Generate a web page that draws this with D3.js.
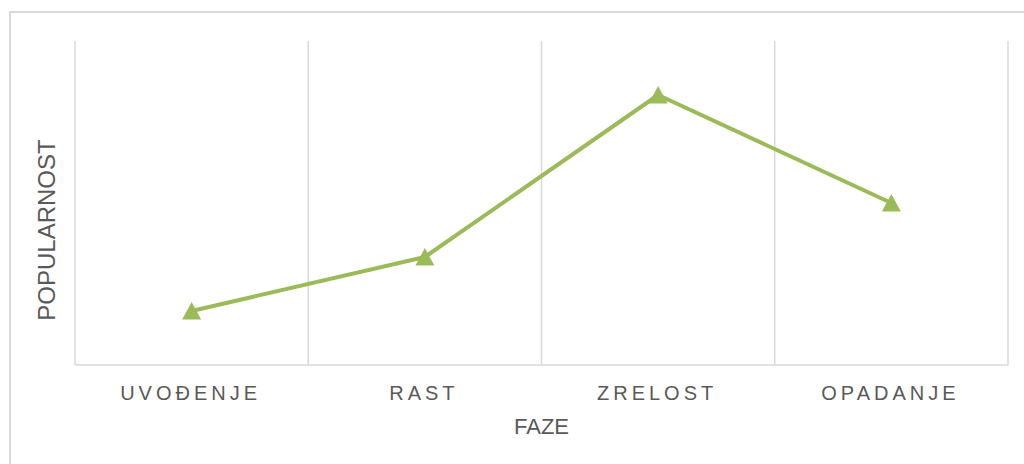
<!DOCTYPE html>
<html>
<head>
<meta charset="utf-8">
<script src="https://cdn.jsdelivr.net/npm/d3@7"></script>
<style>
  body { margin: 0; background: #fff; }
  svg { display: block; font-family: "Liberation Sans", Arial, sans-serif; }
</style>
</head>
<body>
<svg class="chart"></svg>
<script>
var phases = ['UVOĐENJE', 'RAST', 'ZRELOST', 'OPADANJE'];
var popularity = [1, 2, 5, 3];
var yMax = 6;

var w = 1024, h = 464;
var margin = {top: 41, right: 16, bottom: 99, left: 75};

var svg = d3.select('.chart')
	.attr('width', w)
	.attr('height', h);

// outer chart frame
svg.append('rect')
	.attr('x', 10).attr('y', 12)
	.attr('width', w + 20).attr('height', h + 20)
	.attr('fill', 'none')
	.attr('stroke', '#d9d9d9')
	.attr('stroke-width', 2);

var x = d3.scaleBand()
	.domain(phases)
	.range([margin.left, w - margin.right])
	.padding(0);

var y = d3.scaleLinear()
	.domain([0, yMax])
	.range([h - margin.bottom, margin.top]);

// vertical gridlines at band edges
var edges = phases.map(function(d) { return x(d) }).concat([x.range()[1]]);
svg.selectAll('line.grid')
	.data(edges)
  .enter().append('line')
	.attr('class', 'grid')
	.attr('x1', function(d) { return d }).attr('x2', function(d) { return d })
	.attr('y1', y(yMax)).attr('y2', y(0))
	.attr('stroke', '#d9d9d9')
	.attr('stroke-width', 1.5);

// bottom axis
var xAxis = svg.append('g')
	.attr('transform', 'translate(0,' + y(0) + ')')
	.call(d3.axisBottom(x).tickSize(0).tickPadding(0));
xAxis.select('.domain')
	.attr('stroke', '#d9d9d9')
	.attr('stroke-width', 1.5)
	.attr('d', 'M' + x.range()[0] + ',0H' + x.range()[1]);
xAxis.selectAll('text')
	.attr('y', 35)
	.attr('dy', 0)
	.attr('dx', -1)
	.attr('fill', '#595959')
	.style('font-size', '20px')
	.style('letter-spacing', '4px');

// axis titles
svg.append('text')
	.attr('x', x.range()[0] + (x.range()[1] - x.range()[0]) / 2)
	.attr('y', 434)
	.attr('text-anchor', 'middle')
	.attr('fill', '#595959')
	.style('font-size', '22px')
	.text('FAZE');

svg.append('text')
	.attr('transform', 'translate(55,230) rotate(-90)')
	.attr('text-anchor', 'middle')
	.attr('fill', '#595959')
	.style('font-size', '24px')
	.text('POPULARNOST');

// line
var line = d3.line()
	.x(function(d, i) { return x(phases[i]) + x.bandwidth() / 2 })
	.y(function(d) { return y(d) });

svg.append('path')
	.datum(popularity)
	.attr('d', line)
	.attr('fill', 'none')
	.attr('stroke', '#9bbb59')
	.attr('stroke-width', 4)
	.attr('stroke-linejoin', 'round');

// triangle markers
svg.selectAll('path.marker')
	.data(popularity)
  .enter().append('path')
	.attr('class', 'marker')
	.attr('d', 'M0,-9L9.5,8.5L-9.5,8.5Z')
	.attr('transform', function(d, i) {
		return 'translate(' + (x(phases[i]) + x.bandwidth() / 2) + ',' + y(d) + ')';
	})
	.attr('fill', '#9bbb59');
</script>
</body>
</html>
